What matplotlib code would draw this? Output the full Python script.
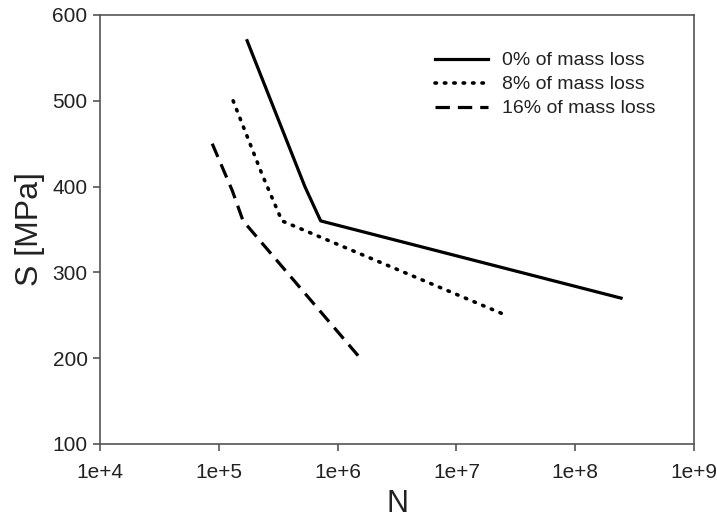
import matplotlib
matplotlib.use("Agg")
import matplotlib.pyplot as plt
from matplotlib.ticker import FixedLocator, FixedFormatter, NullLocator

plt.rcParams['font.family'] = ['Liberation Sans', 'DejaVu Sans']

# Data
labels = ["0% of mass loss", "8% of mass loss", "16% of mass loss"]
n0 = [1.73e5, 5.3e5, 7.2e5, 2.43e8]
s0 = [570, 400, 360, 270]
n8 = [1.32e5, 2.3e5, 3.4e5, 2.42e7]
s8 = [500, 415, 360, 252]
n16 = [8.8e4, 1.3e5, 1.6e5, 1.55e6]
s16 = [450, 395, 360, 200]
xticks = [1e4, 1e5, 1e6, 1e7, 1e8, 1e9]
xticklabels = ["1e+4", "1e+5", "1e+6", "1e+7", "1e+8", "1e+9"]
yticks = [100, 200, 300, 400, 500, 600]

fig = plt.figure(figsize=(7.17, 5.24), dpi=100)
ax = fig.add_axes([0.1395, 0.1527, 0.8285, 0.8187])

ax.plot(n0, s0, color='black', lw=2.3, linestyle='-', label=labels[0])
ax.plot(n8, s8, color='black', lw=2.6, linestyle=(0, (0.4, 2.2)), dash_capstyle='round', label=labels[1])
ax.plot(n16, s16, color='black', lw=2.3, linestyle=(0, (4.5, 2.5)), label=labels[2])

ax.set_xscale('log')
ax.set_xlim(1e4, 1e9)
ax.set_ylim(100, 600)
ax.xaxis.set_major_locator(FixedLocator(xticks))
ax.xaxis.set_major_formatter(FixedFormatter(xticklabels))
ax.xaxis.set_minor_locator(NullLocator())
ax.set_yticks(yticks)

for sp in ax.spines.values():
    sp.set_color('#555555')
    sp.set_linewidth(1.2)
ax.tick_params(axis='both', direction='out', length=5, width=1.2, color='#555555',
               labelsize=15, labelcolor='#222222')
ax.tick_params(axis='x', pad=9)
ax.tick_params(axis='y', pad=4)

ax.set_xlabel("N", fontsize=22, color='#222222', labelpad=5)
ax.set_ylabel("S [MPa]", fontsize=23, color='#222222', labelpad=5)

leg = ax.legend(loc='upper left', bbox_to_anchor=(0.535, 0.955), frameon=False, fontsize=14,
                handlelength=2.7, handletextpad=0.75, labelspacing=0.33)
for t in leg.get_texts():
    t.set_color('#222222')

fig.savefig("out.png", dpi=100)
